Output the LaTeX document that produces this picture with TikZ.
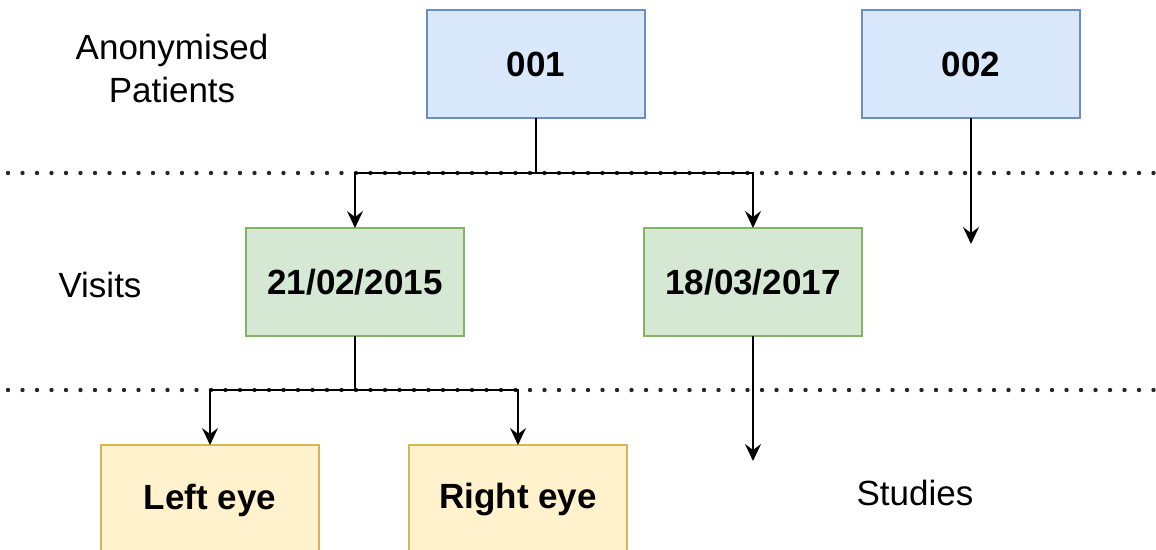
\documentclass[tikz,border=0pt]{standalone}
\usepackage{fontspec}
\setmainfont{Liberation Sans}
\usetikzlibrary{arrows.meta}
\definecolor{ptfill}{HTML}{DAE8FC}
\definecolor{ptline}{HTML}{6C8EBF}
\definecolor{vsfill}{HTML}{D5E8D4}
\definecolor{vsline}{HTML}{82B366}
\definecolor{stfill}{HTML}{FFF2CC}
\definecolor{stline}{HTML}{D6B656}

\begin{document}
\begin{tikzpicture}[x=0.5pt,y=-0.5pt,
  box/.style={draw,line width=0.6pt,minimum width=109pt,minimum height=54pt,
    inner sep=0pt,outer sep=0pt,font=\fontsize{17.5}{21}\selectfont\bfseries},
  patient/.style={box,fill=ptfill,draw=ptline},
  visit/.style={box,fill=vsfill,draw=vsline},
  study/.style={box,fill=stfill,draw=stline,minimum height=55pt},
  lbl/.style={align=center,font=\fontsize{17.5}{21.5}\selectfont},
  arr/.style={-{Stealth[length=8.5pt,width=8pt,inset=3pt]},line width=1pt},
  sep/.style={line width=2.2pt,line cap=round,dash pattern=on 0pt off 7.25pt,black!85}]

\useasboundingbox (0,0) rectangle (1156,550);
\clip (0,0) rectangle (1156,550);

\draw[sep] (8,173) -- (1156,173);
\draw[sep] (8,390) -- (1156,390);

\node[patient] (p1) at (536,64) {001};
\node[patient] (p2) at (971,64) {002};
\node[visit] (v1) at (355,282) {21/02/2015};
\node[visit] (v2) at (753,282) {18/03/2017};
\node[study] (s1) at (210,500) {Left eye};
\node[study] (s2) at (518,500) {Right eye};

\coordinate (e2) at (971,244);
\coordinate (e3) at (753,461);

\node[lbl] (lp) at (172,68) {Anonymised\\Patients};
\node[lbl] (lv) at (100,285) {Visits};
\node[lbl] (ls) at (915,493) {Studies};

\draw[arr] (p1.south) -- ++(0,55) -| (v1.north);
\draw[arr] (p1.south) -- ++(0,55) -| (v2.north);
\draw[arr] (v1.south) -- ++(0,54) -| (s1.north);
\draw[arr] (v1.south) -- ++(0,54) -| (s2.north);
\path[arr] (p2.south) edge (e2) (v2.south) edge (e3);

\end{tikzpicture}
\end{document}
